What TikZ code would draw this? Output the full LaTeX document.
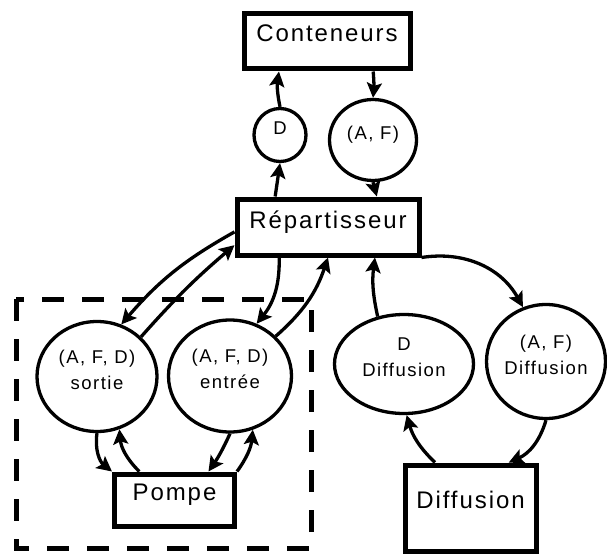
\documentclass[tikz,border=0pt]{standalone}
\usepackage{fontspec}
\setmainfont{Liberation Sans}[LetterSpace=8]
\usetikzlibrary{shapes.geometric,arrows.meta}
\newcommand{\grandtexte}{\fontsize{24}{28}\selectfont}
\newcommand{\petittexte}{\fontsize{18.5}{26}\selectfont}

\begin{document}
\begin{tikzpicture}[x=1pt, y=1pt, >={Stealth[length=15pt, width=15pt, inset=3pt]}]
    \useasboundingbox (0,0) rectangle (607,-556);
    \draw[line width=5pt, dash pattern=on 22pt off 18pt] (16,-299) rectangle (311,-548);
    \begin{scope}
        \tikzstyle{every node}=[fill=white, draw=black, rectangle, line width=5pt, inner sep=0pt, font=\grandtexte, text height=17pt]
        \node[minimum width=166pt, minimum height=55pt, text depth=16pt] (cont) at (327,-41.5) {Conteneurs};
        \node[minimum width=182pt, minimum height=56pt, text depth=14pt] (rep) at (328,-227) {Répartisseur};
        \node[minimum width=120pt, minimum height=52pt, text depth=17pt] (pompe) at (174.5,-500) {Pompe};
        \node[minimum width=131pt, minimum height=86pt, text depth=17pt] (diff) at (470.5,-508) {Diffusion};
    \end{scope}
    \begin{scope}
        \tikzstyle{every node}=[fill=white, draw=black, ellipse, line width=3.3pt, inner sep=0pt, font=\petittexte, align=center, text height=38pt, text depth=13pt]
        \node[minimum width=52pt, minimum height=53pt, text height=13pt, text depth=14pt] (d) at (280,-135) {D};
        \node[minimum width=87pt, minimum height=81pt, text height=13pt, text depth=14pt] (af) at (373,-140) {(A, F)};
        \node[minimum width=120pt, minimum height=110pt] (sortie) at (97,-376.5) {(A, F, D)\\sortie};
        \node[minimum width=123pt, minimum height=112pt] (entree) at (230,-376) {(A, F, D)\\entrée};
        \node[minimum width=139pt, minimum height=99pt] (dd) at (404,-364) {D\\Diffusion};
        \node[minimum width=119pt, minimum height=114pt] (afd) at (546,-361.5) {(A, F)\\Diffusion};
    \end{scope}
    \begin{scope}
        \tikzstyle{every edge}=[draw, line width=3.3pt, ->]
        \path
        (rep.150) edge (d.south)
        (d.north) edge[bend left=10] (cont.212)
        (cont.327) edge[bend left=5] (af.north)
        (af.south) edge (rep.32)
        (rep.183) edge[bend right=10] (sortie.65)
        (sortie.42) edge[bend left=4] (rep.191)
        (rep.212) edge[bend left=20] (entree.63)
        (entree.41) edge[bend right=15] (rep.south)
        (sortie.south) edge[bend right=30] (pompe.north west)
        (pompe.141) edge[bend left=20] (sortie.293)
        (entree.south) edge[bend left=5] (pompe.40)
        (pompe.north east) edge[bend right=15] (entree.293)
        (rep.south east) edge[bend left=35] (afd.113)
        (dd.119) edge[bend left=10] (rep.327)
        (diff.128) edge[bend left=15] (dd.273)
        (afd.south) edge[bend left=25] (diff.50);
    \end{scope}
\end{tikzpicture}
\end{document}
